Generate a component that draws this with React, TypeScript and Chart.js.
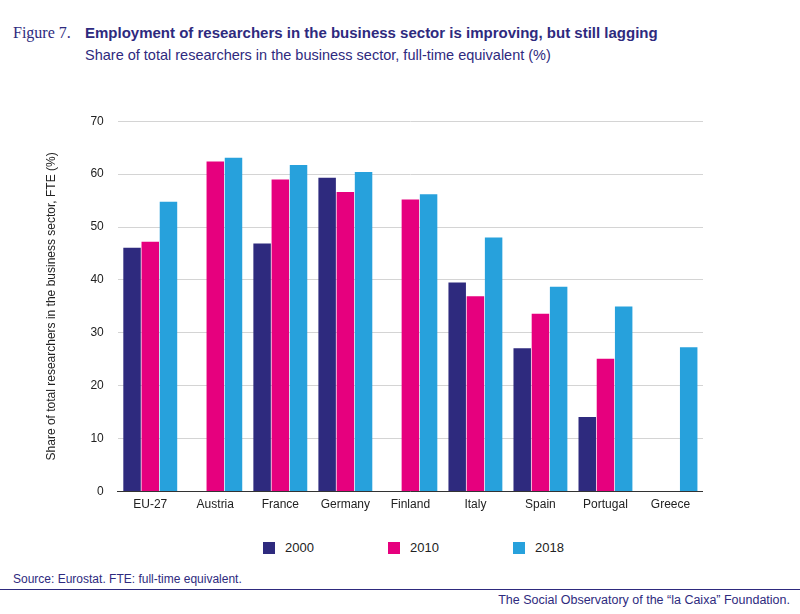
import React, { useEffect, useRef } from "react";
import { Chart, registerables } from "chart.js";
Chart.register(...registerables);

const categories = ["EU-27", "Austria", "France", "Germany", "Finland", "Italy", "Spain", "Portugal", "Greece"];
const s2000 = [46.1, null, 46.9, 59.3, null, 39.5, 27.1, 14.1, null];
const s2010 = [47.2, 62.4, 59.0, 56.6, 55.2, 36.9, 33.6, 25.1, null];
const s2018 = [54.8, 63.1, 61.7, 60.4, 56.2, 48.0, 38.7, 35.0, 27.3];
const seriesNames = ["2000", "2010", "2018"];
const colors = ["#2e2a7e", "#e6007e", "#27a1dc"];
const NAVY = "#2e2a7e";
const FONT = "'Liberation Sans', Arial, sans-serif";

export default function App() {
  const ref = useRef<HTMLCanvasElement>(null);
  useEffect(() => {
    const data = [s2000, s2010, s2018];
    const chart = new Chart(ref.current!, {
      type: "bar",
      data: {
        labels: categories,
        datasets: seriesNames.map((n, i) => ({
          label: n, data: data[i] as any, backgroundColor: colors[i],
          categoryPercentage: 0.84, barPercentage: 0.96,
        })),
      },
      options: {
        animation: false, responsive: false, maintainAspectRatio: false,
        layout: { padding: { top: 10, right: 0 } },
        plugins: { legend: { display: false }, tooltip: { enabled: false } },
        scales: {
          x: {
            grid: { display: false, drawTicks: false },
            border: { color: "#333", width: 1 },
            ticks: { color: "#222", font: { family: FONT, size: 12 }, padding: 6 },
          },
          y: {
            min: 0, max: 70,
            ticks: { stepSize: 10, color: "#222", font: { family: FONT, size: 12 }, padding: 14 },
            grid: { color: "#d4d4d4", drawTicks: false },
            border: { display: false },
            title: { display: true, text: "Share of total researchers in the business sector, FTE (%)", color: "#222", font: { family: FONT, size: 12 }, padding: { bottom: 18 } },
          },
        },
      },
    });
    return () => chart.destroy();
  }, []);
  return (
    <div style={{ position: "fixed", left: 0, top: 0, width: 800, height: 614, background: "#fff", fontFamily: FONT, color: NAVY }}>
      <div style={{ position: "absolute", left: 13, top: 24, fontFamily: "'Liberation Serif', serif", fontSize: 16 }}>Figure 7.</div>
      <div style={{ position: "absolute", left: 85, top: 24, fontSize: 15, fontWeight: 700 }}>Employment of researchers in the business sector is improving, but still lagging</div>
      <div style={{ position: "absolute", left: 85, top: 47, fontSize: 14.5 }}>Share of total researchers in the business sector, full-time equivalent (%)</div>
      <canvas ref={ref} width={663} height={418} style={{ position: "absolute", left: 40, top: 100 }} />
      <div style={{ position: "absolute", top: 540, left: 0, width: 800, height: 16 }}>
        {seriesNames.map((n, i) => (
          <div key={n} style={{ position: "absolute", left: 263 + i * 125, top: 0, display: "flex", alignItems: "center", fontSize: 13, color: "#222" }}>
            <span style={{ width: 12, height: 12, background: colors[i], display: "inline-block", marginRight: 10 }} />{n}
          </div>
        ))}
      </div>
      <div style={{ position: "absolute", left: 13, top: 572, fontSize: 12 }}>Source: Eurostat. FTE: full-time equivalent.</div>
      <div style={{ position: "absolute", left: 0, top: 589, width: 800, borderTop: "1px solid #2e2a7e" }} />
      <div style={{ position: "absolute", right: 10, top: 593, fontSize: 12.5 }}>The Social Observatory of the “la Caixa” Foundation.</div>
    </div>
  );
}
